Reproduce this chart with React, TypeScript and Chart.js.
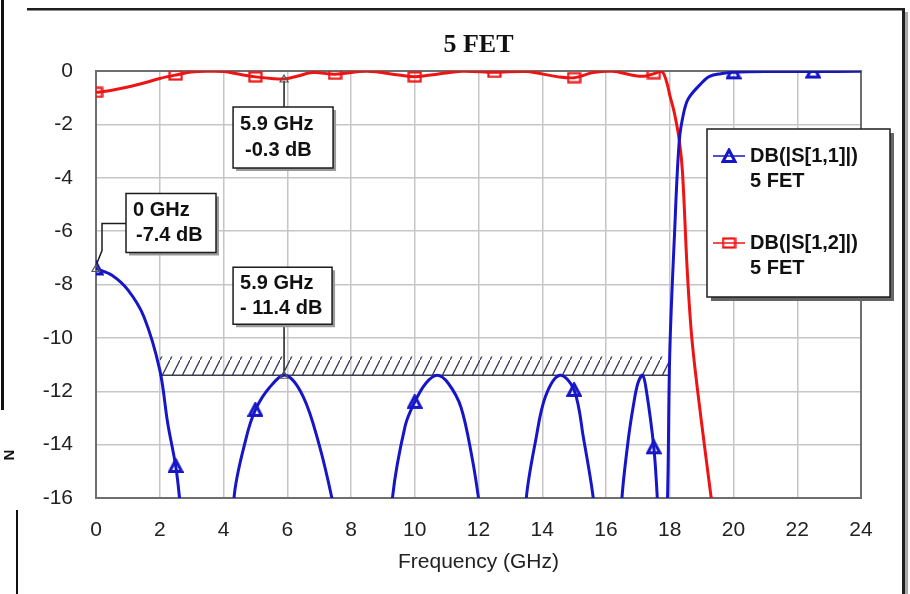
import React, { useEffect, useRef } from "react";
import { Chart, registerables } from "chart.js";

Chart.register(...registerables);

// ---------------- data ----------------
const TITLE = "5 FET";
const X_TITLE = "Frequency (GHz)";
const X_MIN = 0;
const X_MAX = 24;
const X_STEP = 2;
const Y_MIN = -16;
const Y_MAX = 0;
const Y_STEP = 2;
const MARKER_STEP = 2.5;

const S11_FREQ = [
  0, 0.5, 1, 1.5, 2, 2.25, 2.5, 2.62, 2.8, 3.2, 3.6, 4.0, 4.33, 4.7, 5.0, 5.45, 5.95, 6.5, 7.0, 7.4,
  7.5, 8.0, 8.5, 9.0, 9.3, 9.7, 10.0, 10.35, 10.7, 11.05, 11.45, 11.8, 12.0, 12.2, 12.5, 13.0, 13.3,
  13.5, 13.8, 14.1, 14.55, 15.0, 15.3, 15.6, 15.8, 16.1, 16.35, 16.5, 16.7, 16.85, 17.0, 17.15,
  17.27, 17.5, 17.6, 17.7, 17.8, 17.93, 18.0, 18.15, 18.3, 18.45, 18.6, 19.0, 19.25, 19.6, 20.0,
  21.0, 22.5, 24.0,
];
const S11_DB = [
  -7.4, -7.65, -8.2, -9.2, -11.2, -13.2, -14.8, -16.0, -18.5, -25, -32, -24, -16.0, -13.8, -12.7,
  -11.85, -11.4, -12.2, -14.0, -16.0, -16.8, -22, -30, -21, -16.0, -13.3, -12.4, -11.7, -11.4,
  -11.7, -12.6, -14.5, -16.0, -17.8, -22, -27, -20, -16.0, -13.8, -12.2, -11.4, -11.95, -13.8,
  -16.0, -18.5, -25, -19.5, -16.0, -13.8, -12.6, -11.7, -11.4, -12.0, -14.1, -15.8, -18, -20,
  -16.0, -10.6, -6.1, -2.6, -1.5, -1.0, -0.45, -0.2, -0.1, -0.05, -0.02, -0.02, -0.01,
];

const S21_FREQ = [
  0, 0.5, 1.0, 1.5, 2.0, 2.5, 3.0, 3.5, 4.0, 4.5, 5.0, 5.5, 5.9, 6.3, 6.8, 7.5, 8.5, 9.5, 10.0,
  10.5, 11.5, 12.5, 13.5, 14.5, 15.0, 15.6, 16.2, 16.8, 17.2, 17.5, 17.75, 17.9, 18.0, 18.15, 18.3,
  18.4, 18.55, 18.7, 19.0, 19.3, 19.6, 20.0, 21.0, 22.5, 24.0,
];
const S21_DB = [
  -0.8, -0.72, -0.6, -0.45, -0.28, -0.15, -0.04, -0.01, -0.02, -0.12, -0.22, -0.28, -0.3, -0.2,
  -0.06, -0.12, -0.01, -0.15, -0.22, -0.15, -0.01, -0.05, -0.02, -0.22, -0.25, -0.06, -0.01, -0.15,
  -0.2, -0.1, -0.01, -0.4, -0.9, -1.6, -2.6, -3.8, -7.5, -10.1, -13.2, -16.0, -19, -23, -32, -45,
  -55,
];

const SPEC_FREQ = [2, 18];
const SPEC_DB = [-11.4, -11.4];
const SPEC_TOP_DB = -10.7;

const LEGEND_NAMES = ["DB(|S[1,1]|)", "DB(|S[1,2]|)"];
const LEGEND_SUB = ["5 FET", "5 FET"];

const MARK_FREQ = [0, 5.9, 5.9];
const MARK_DB = [-7.4, -11.4, -0.3];
const MARK_TEXT_1 = ["0 GHz", "5.9 GHz", "5.9 GHz"];
const MARK_TEXT_2 = ["-7.4 dB", "- 11.4 dB", "-0.3 dB"];

// ---------------- styles ----------------
const SANS = '"Liberation Sans", Arial, sans-serif';
const SERIF = '"Liberation Serif", "Times New Roman", serif';
const BLUE = "#1616c8";
const RED = "#ee1414";
const TEXT = "#222222";

function makeTriangle(color: string): HTMLCanvasElement {
  const c = document.createElement("canvas");
  c.width = 16;
  c.height = 16;
  const g = c.getContext("2d")!;
  g.strokeStyle = color;
  g.lineWidth = 3;
  g.lineJoin = "miter";
  g.beginPath();
  g.moveTo(8, 2);
  g.lineTo(14, 13.5);
  g.lineTo(2, 13.5);
  g.closePath();
  g.stroke();
  return c;
}

function makeRect(color: string): HTMLCanvasElement {
  const c = document.createElement("canvas");
  c.width = 15;
  c.height = 12;
  const g = c.getContext("2d")!;
  g.strokeStyle = color;
  g.lineWidth = 2.2;
  g.strokeRect(1.5, 1.5, 12, 9);
  return c;
}

function makeHatch(): CanvasPattern {
  const c = document.createElement("canvas");
  c.width = 10;
  c.height = 20;
  const g = c.getContext("2d")!;
  g.strokeStyle = "#3a3a58";
  g.lineWidth = 1.3;
  g.beginPath();
  g.moveTo(-1, 22);
  g.lineTo(11, -2);
  g.stroke();
  return g.createPattern(c, "repeat")!;
}

const isMarker = (x: number) => Math.abs(x / MARKER_STEP - Math.round(x / MARKER_STEP)) < 1e-6;

const ANN_LAYOUT = [
  { dx: 30, dy: -75, w: 90, h: 59, ind: 3, leader: [[30, -45], [6, -45], [6, -18], [0, -3]] },
  { dx: -51, dy: -108, w: 99, h: 57, ind: 0, leader: [[0, -51], [0, -2]] },
  { dx: -51, dy: 28, w: 100, h: 61, ind: 5, leader: [[0, 28], [0, 2]] },
];

function drawBox(ctx: CanvasRenderingContext2D, x: number, y: number, w: number, h: number, sh: number, shColor: string) {
  ctx.fillStyle = shColor;
  ctx.fillRect(x + sh, y + sh, w, h);
  ctx.fillStyle = "#ffffff";
  ctx.fillRect(x, y, w, h);
  ctx.strokeStyle = "#1c1c1c";
  ctx.lineWidth = 1.5;
  ctx.strokeRect(x, y, w, h);
}

export default function App() {
  const ref = useRef<HTMLCanvasElement | null>(null);

  useEffect(() => {
    if (!ref.current) return;
    const tri = makeTriangle(BLUE);
    const rect = makeRect(RED);
    const hatch = makeHatch();

    const decor = {
      id: "decor",
      beforeDraw(chart: any) {
        const { ctx, width, height } = chart;
        ctx.save();
        ctx.fillStyle = "#ffffff";
        ctx.fillRect(0, 0, width, height);
        ctx.restore();
      },
      beforeDatasetsDraw(chart: any) {
        const { ctx, chartArea: a } = chart;
        ctx.save();
        ctx.strokeStyle = "#6e6e6e";
        ctx.lineWidth = 2;
        ctx.strokeRect(a.left, a.top, a.right - a.left, a.bottom - a.top);
        ctx.restore();
      },
      afterDatasetsDraw(chart: any) {
        const { ctx } = chart;
        const xs = chart.scales.x;
        const ys = chart.scales.y;
        ctx.save();
        MARK_FREQ.forEach((f, i) => {
          const px = xs.getPixelForValue(f);
          const py = ys.getPixelForValue(MARK_DB[i]);
          const L = ANN_LAYOUT[i];
          ctx.strokeStyle = "#1c1c1c";
          ctx.lineWidth = 1.5;
          ctx.beginPath();
          L.leader.forEach((p, k) => {
            if (k === 0) ctx.moveTo(px + p[0], py + p[1]);
            else ctx.lineTo(px + p[0], py + p[1]);
          });
          ctx.stroke();
          ctx.strokeStyle = "#555";
          ctx.lineWidth = 1.2;
          ctx.beginPath();
          ctx.moveTo(px, py - 4);
          ctx.lineTo(px + 4, py + 3);
          ctx.lineTo(px - 4, py + 3);
          ctx.closePath();
          ctx.stroke();
          const bx = px + L.dx;
          const by = py + L.dy;
          drawBox(ctx, bx, by, L.w, L.h, 3, "#9a9a9a");
          ctx.fillStyle = "#111";
          ctx.font = `bold 20px ${SANS}`;
          ctx.textAlign = "left";
          ctx.textBaseline = "middle";
          ctx.fillText(MARK_TEXT_1[i], bx + 7, by + L.h * 0.28);
          ctx.fillText(MARK_TEXT_2[i], bx + 7 + L.ind, by + L.h * 0.72);
        });
        ctx.restore();
      },
      afterDraw(chart: any) {
        const { ctx, chartArea: a } = chart;
        ctx.save();
        ctx.fillStyle = "#111";
        ctx.font = `bold 26px ${SERIF}`;
        ctx.textAlign = "center";
        ctx.textBaseline = "middle";
        ctx.fillText(TITLE, (a.left + a.right) / 2, 45);
        ctx.fillStyle = TEXT;
        ctx.font = `21px ${SANS}`;
        ctx.fillText(X_TITLE, (a.left + a.right) / 2, 562);

        const lx = 707, ly = 129, lw = 183, lh = 168;
        drawBox(ctx, lx, ly, lw, lh, 4, "#666666");
        const entries = [
          { color: BLUE, img: tri, y: 156 },
          { color: RED, img: rect, y: 243 },
        ];
        entries.forEach((e, i) => {
          ctx.strokeStyle = e.color;
          ctx.lineWidth = 1.5;
          ctx.beginPath();
          ctx.moveTo(713, e.y);
          ctx.lineTo(745, e.y);
          ctx.stroke();
          ctx.drawImage(e.img, 729 - e.img.width / 2, e.y - e.img.height / 2);
          ctx.fillStyle = "#111";
          ctx.font = `bold 20px ${SANS}`;
          ctx.textAlign = "left";
          ctx.textBaseline = "middle";
          ctx.fillText(LEGEND_NAMES[i], 750, e.y);
          ctx.fillText(LEGEND_SUB[i], 750, e.y + 25);
        });

        ctx.fillStyle = "#1e1e1e";
        ctx.fillRect(27, 8, 878, 2.5);
        ctx.fillRect(902, 8, 3, 586);
        ctx.fillStyle = "#a8a8a8";
        ctx.fillRect(905, 12, 3, 582);
        ctx.fillStyle = "#111";
        ctx.fillRect(1, 0, 3, 410);
        ctx.fillRect(16, 510, 2, 84);
        ctx.translate(10, 455);
        ctx.rotate(-Math.PI / 2);
        ctx.font = `bold 15px ${SANS}`;
        ctx.textAlign = "center";
        ctx.textBaseline = "middle";
        ctx.fillText("N", 0, 0);
        ctx.restore();
      },
    };

    const chart = new Chart(ref.current, {
      type: "line",
      data: {
        datasets: [
          {
            label: LEGEND_NAMES[0],
            data: S11_FREQ.map((x, i) => ({ x, y: S11_DB[i] })),
            borderColor: BLUE,
            borderWidth: 3,
            tension: 0.35,
            pointStyle: tri as any,
            pointRadius: (c: any) => (c.raw && isMarker(c.raw.x) ? 6 : 0),
            pointHoverRadius: 0,
            fill: false,
            clip: 0,
          },
          {
            label: LEGEND_NAMES[1],
            data: S21_FREQ.map((x, i) => ({ x, y: S21_DB[i] })),
            borderColor: RED,
            borderWidth: 3,
            tension: 0.35,
            pointStyle: rect as any,
            pointRadius: (c: any) => (c.raw && isMarker(c.raw.x) ? 6 : 0),
            pointHoverRadius: 0,
            fill: false,
            clip: 0,
          },
          {
            label: "spec",
            data: SPEC_FREQ.map((x, i) => ({ x, y: SPEC_DB[i] })),
            borderColor: "#3c3c50",
            borderWidth: 1.5,
            pointRadius: 0,
            tension: 0,
            fill: { value: SPEC_TOP_DB },
            backgroundColor: hatch as any,
            clip: 0,
          },
        ],
      },
      options: {
        responsive: false,
        devicePixelRatio: 1,
        animation: false,
        events: [],
        layout: { padding: { left: 0, right: 49, top: 71, bottom: 0 } },
        plugins: {
          legend: { display: false },
          title: { display: false },
          tooltip: { enabled: false },
        },
        scales: {
          x: {
            type: "linear",
            min: X_MIN,
            max: X_MAX,
            afterFit: (s: any) => {
              s.height = 96;
            },
            ticks: {
              stepSize: X_STEP,
              autoSkip: false,
              maxRotation: 0,
              padding: 20,
              color: TEXT,
              font: { family: SANS, size: 21 },
              callback: (v: any) => String(v),
            },
            grid: { color: "#c6c6c6", lineWidth: 1.5, drawTicks: false },
            border: { display: true, color: "#6e6e6e", width: 2 },
          },
          y: {
            type: "linear",
            min: Y_MIN,
            max: Y_MAX,
            afterFit: (s: any) => {
              s.width = 96;
            },
            ticks: {
              stepSize: Y_STEP,
              autoSkip: false,
              padding: 23,
              color: TEXT,
              font: { family: SANS, size: 21 },
              callback: (v: any) => String(v),
            },
            grid: { color: "#c6c6c6", lineWidth: 1.5, drawTicks: false },
            border: { display: true, color: "#6e6e6e", width: 2 },
          },
        },
      },
      plugins: [decor],
    } as any);

    return () => chart.destroy();
  }, []);

  return (
    <div style={{ position: "absolute", left: 0, top: 0, width: 910, height: 594, background: "#fff" }}>
      <canvas ref={ref} width={910} height={594} style={{ display: "block", width: 910, height: 594 }} />
    </div>
  );
}
